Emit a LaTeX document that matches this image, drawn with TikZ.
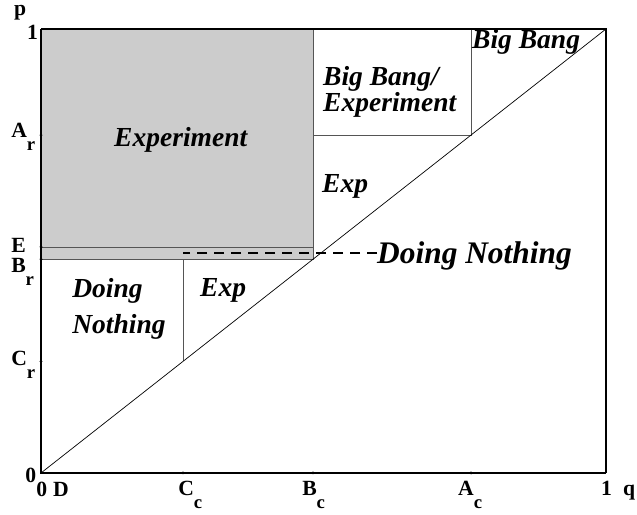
\documentclass[tikz,border=0pt]{standalone}
\usepackage{fontspec}
\setmainfont{Liberation Serif}
\definecolor{expgray}{RGB}{204,204,204}
\definecolor{edge}{RGB}{85,85,85}
\newcommand{\sublab}[2]{#1\raisebox{-11pt}{\fontsize{16}{16}\selectfont #2}}

\begin{document}
\begin{tikzpicture}[x=16.95cm, y=13.32cm,
  region/.style={font=\fontsize{23.5}{21}\selectfont\bfseries\itshape, inner sep=0pt, align=left},
  axlab/.style={font=\fontsize{18.5}{18.5}\selectfont\bfseries, inner sep=0pt, anchor=base west},
  part/.style={edge, line width=0.8pt},
  tickdot/.style={circle, fill=black, inner sep=0pt, minimum size=2.6pt}
]
  \useasboundingbox (-0.0726,-0.0946) rectangle (1.0549,1.0653);
  \def\cC{0.2513} \def\bC{0.4814} \def\aC{0.7611} \def\eR{0.509}

  % shaded experiment region
  \fill[expgray] (0,\bC) rectangle (\bC,1);
  \draw[part] (0,\eR) -- (\bC,\eR);
  \draw[part] (0,\bC) -- (\bC,\bC) -- (\bC,1);
  \draw[part] (\cC,\bC) -- (\cC,\cC);
  \draw[part] (\bC,\aC) -- (\aC,\aC) -- (\aC,1);

  % frame and diagonal
  \draw[line width=0.6pt] (0,0) -- (1,1);
  \draw[line width=1.2pt] (0,1) -- (1,1) -- (1,0);
  \draw[line width=1.6pt] (0,1) -- (0,0) -- (1,0);

  % ticks
  \foreach \t in {\cC,\bC,\aC} {
    \node[tickdot] at (\t,0) {};
    \node[tickdot] at (0,\t) {};
  }
  \node[tickdot] at (0,\eR) {};

  % axis labels
  \node[axlab] (p) at (-0.0478,1.031) {p};
  \node[axlab] (p1) at (-0.0248,0.977) {1};
  \node[axlab] (Ar) at (-0.0531,0.7545) {\sublab{A}{r}};
  \node[axlab] (E) at (-0.0531,0.4955) {E};
  \node[axlab] (Br) at (-0.0531,0.4505) {\sublab{B}{r}};
  \node[axlab] (Cr) at (-0.0531,0.241) {\sublab{C}{r}};
  \node[axlab] (p0) at (-0.0283,-0.0225) {0};
  \node[axlab] (q0) at (-0.0088,-0.054) {0};
  \node[axlab] (D) at (0.0212,-0.054) {D};
  \node[axlab] (Cc) at (0.2425,-0.05) {\sublab{C}{c}};
  \node[axlab] (Bc) at (0.462,-0.05) {\sublab{B}{c}};
  \node[axlab] (Ac) at (0.738,-0.05) {\sublab{A}{c}};
  \node[axlab] (q1) at (0.991,-0.05) {1};
  \node[axlab] (q) at (1.03,-0.05) {q};

  % region labels
  \node[region, anchor=base west] (exper) at (0.1292,0.7342) {Experiment};
  \node[region, anchor=north west] (bbexp) at (0.4991,0.9167) {Big Bang/\\Experiment};
  \node[region, anchor=base west] (bigbang) at (0.7628,0.955) {Big Bang};
  \node[region, anchor=base west] (expup) at (0.4973,0.6306) {Exp};
  \node[region, anchor=north west] (doing) at (0.0549,0.4392) {Doing\\[9pt]Nothing};
  \node[region, anchor=base west] (explow) at (0.2814,0.3964) {Exp};
  \node[region, anchor=base west, font=\fontsize{26.8}{26.8}\selectfont\bfseries\itshape] (nothing) at (0.5947,0.4718) {Doing Nothing};

  % dashed boundary
  \coordinate (dn) at (\cC,0.4955);
  \draw[line width=1.6pt, dash pattern=on 8.5pt off 6pt] (dn -| nothing.west) -- (dn);
\end{tikzpicture}
\end{document}
